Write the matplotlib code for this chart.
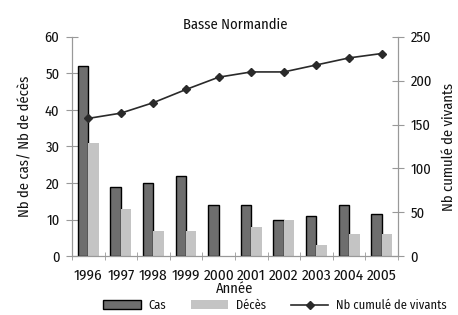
import matplotlib
matplotlib.use("Agg")
import matplotlib.pyplot as plt
import numpy as np

years = ["1996", "1997", "1998", "1999", "2000", "2001", "2002", "2003", "2004", "2005"]
cas = [52, 19, 20, 22, 14, 14, 10, 11, 14, 11.5]
deces = [31, 13, 7, 7, 0, 8, 10, 3, 6, 6]
vivants = [157, 163, 175, 190, 204, 210, 210, 218, 226, 231]

plt.rcParams['font.family'] = ['Fira Sans Condensed', 'DejaVu Sans']
plt.rcParams['font.size'] = 10.5
plt.rcParams['font.weight'] = 'normal'
plt.rcParams['text.color'] = '#111111'
plt.rcParams['axes.labelcolor'] = '#111111'
plt.rcParams['xtick.labelcolor'] = '#111111'
plt.rcParams['ytick.labelcolor'] = '#111111'

fig = plt.figure(figsize=(4.58, 3.15), dpi=100)
ax = fig.add_axes([0.157, 0.187, 0.712, 0.696])
ax2 = ax.twinx()

x = np.arange(len(years))
w = 0.32
b1 = ax.bar(x - w/2, cas, w, color="#6e6e6e", edgecolor="black", linewidth=1.0, label="Cas", zorder=2)
b2 = ax.bar(x + w/2, deces, w, color="#c4c4c4", edgecolor="none", label="Décès", zorder=2)
l1, = ax2.plot(x, vivants, color="#2a2a2a", marker="D", markersize=4.5, linewidth=1.2,
               label="Nb cumulé de vivants")

ax.set_xlim(-0.5, len(years) - 0.5)
ax.set_ylim(0, 60)
ax2.set_ylim(0, 250)
ax.set_yticks([0, 10, 20, 30, 40, 50, 60])
ax2.set_yticks([0, 50, 100, 150, 200, 250])
ax.set_xticks(x)
ax.set_xticklabels(years, fontsize=11)
ax.set_xticks(np.arange(-0.5, len(years), 1), minor=True)
ax.tick_params(axis='x', which='major', length=0, pad=9)
ax.tick_params(axis='x', which='minor', length=6, direction='inout', color='#999999')
ax.tick_params(axis='y', length=8, direction='inout', color='#999999', pad=5)
ax2.tick_params(axis='y', length=8, direction='inout', color='#999999', pad=5)

for a in (ax, ax2):
    a.spines['top'].set_visible(False)
    for s in ('left', 'right', 'bottom'):
        a.spines[s].set_color('#999999')

ax.set_title("Basse Normandie", fontsize=10.5, pad=6)
ax.set_xlabel("Année", labelpad=-1)
ax.set_ylabel("Nb de cas/ Nb de décès", labelpad=9)
ax2.set_ylabel("Nb cumulé de vivants", labelpad=7)

fig.legend([b1, b2, l1], ["Cas", "Décès", "Nb cumulé de vivants"], ncol=3, frameon=False,
           loc='lower center', bbox_to_anchor=(0.6, -0.025), handlelength=3.0,
           columnspacing=2.0, fontsize=9, handletextpad=0.6)

fig.savefig("out.png", dpi=100)
